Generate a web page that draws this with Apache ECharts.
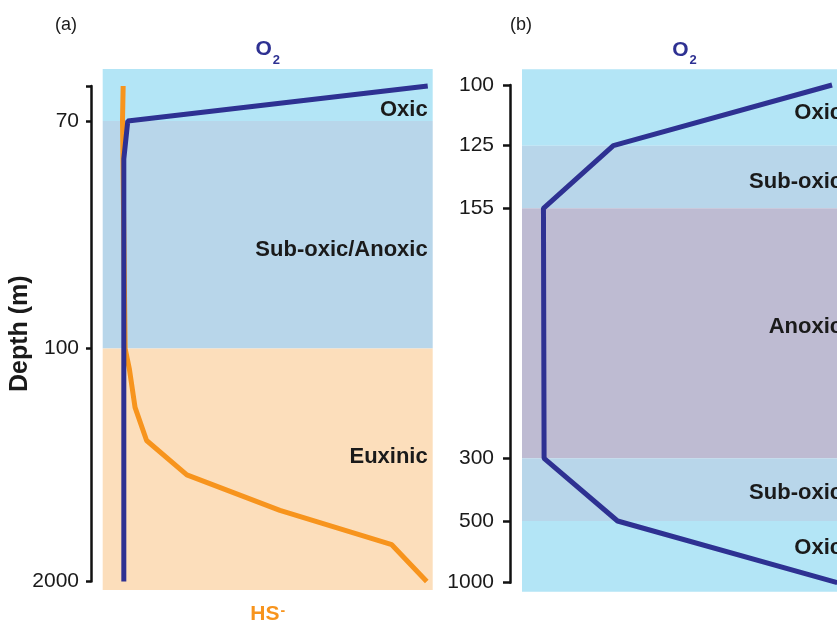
<!DOCTYPE html>
<html><head><meta charset="utf-8">
<script src="https://cdn.jsdelivr.net/npm/echarts@6/dist/echarts.min.js"></script>
<style>html,body{margin:0;padding:0;background:#fff}#c{width:837px;height:625px}</style>
</head><body><div id="c"></div>
<script>
// ================= DATA =================
// ---- Panel (a) ----
const tickDepthA = [0, 70, 100, 2000];
const tickLabelA = ['', '70', '100', '2000'];
const o2DepthA = [0, 70, 75, 2000];
const o2ValA   = [98.5, 7.6, 6.4, 6.4];
const hsDepthA = [0, 70, 100, 270, 580, 850, 1130, 1420, 1700, 2000];
const hsValA   = [6.2, 6.0, 6.8, 8.1, 9.8, 13.3, 25.5, 53.7, 87.6, 98.2];
const zoneNameA   = ['Oxic', 'Sub-oxic/Anoxic', 'Euxinic'];
const zoneTopA    = [null, 70, 100];   // null = open edge of the panel
const zoneBottomA = [70, 100, null];

// ---- Panel (b) ----
const tickDepthB = [100, 125, 155, 300, 500, 1000];
const tickLabelB = ['100', '125', '155', '300', '500', '1000'];
const o2DepthB = [100, 125, 155, 300, 500, 1000];
const o2ValB   = [95.4, 28.1, 6.6, 6.8, 29.4, 97];
const zoneNameB   = ['Oxic', 'Sub-oxic', 'Anoxic', 'Sub-oxic', 'Oxic'];
const zoneTopB    = [null, 125, 155, 300, 500];
const zoneBottomB = [125, 155, 300, 500, null];

// ================= LAYOUT / STYLE =================
const FONT = "'Liberation Sans', Arial, Helvetica, sans-serif";
const INK = '#1a1a1a';
const NAVY = '#2E3192';
const ORANGE = '#F7941D';
const zoneColor = {
  'Oxic': '#B3E5F6',
  'Sub-oxic': '#B8D6EA',
  'Sub-oxic/Anoxic': '#B8D6EA',
  'Anoxic': '#BEBBD2',
  'Euxinic': '#FCDEBB'
};
// non-linear depth axes: relative axis position of each tick
const tickPosA = [0, 35, 262.5, 495.5];
const tickPosB = [0, 60.7, 123.3, 373.3, 436, 497.7];
const padA = [-17, 504];
const padB = [-15.7, 506.7];
const labelDyA = [15, 15, -12];
const labelDyB = [5.5, 5, -6, 3, -8];

function mapDepth(d, depths, pos) {
  for (let i = 0; i < depths.length - 1; i++) {
    if (d <= depths[i + 1] || i === depths.length - 2) {
      const t = (d - depths[i]) / (depths[i + 1] - depths[i]);
      return pos[i] + t * (pos[i + 1] - pos[i]);
    }
  }
}
function series(vals, depths, tD, tP) {
  return vals.map((v, i) => [v, mapDepth(depths[i], tD, tP)]);
}
function zones(names, tops, bottoms, tD, tP, pad, dys) {
  return names.map((n, i) => [
    { name: n,
      yAxis: tops[i] == null ? pad[0] : mapDepth(tops[i], tD, tP),
      itemStyle: { color: zoneColor[n] },
      label: { offset: [0, dys[i]] } },
    { yAxis: bottoms[i] == null ? pad[1] : mapDepth(bottoms[i], tD, tP) }
  ]);
}
function labelFor(tP, labels) {
  return v => { for (let i = 0; i < tP.length; i++) if (Math.abs(tP[i] - v) < 0.01) return labels[i]; return ''; };
}
const o2Name = { formatter: '{o|O}{s|2}', rich: {
  o: { fontSize: 21, fontWeight: 'bold', color: NAVY, fontFamily: FONT, lineHeight: 21, verticalAlign: 'top' },
  s: { fontSize: 13, fontWeight: 'bold', color: NAVY, fontFamily: FONT, lineHeight: 13, padding: [15, 0, 0, 1], verticalAlign: 'top' } } };
const hsName = { formatter: '{h|HS}{m|-}', rich: {
  h: { fontSize: 21, fontWeight: 'bold', color: ORANGE, fontFamily: FONT, lineHeight: 21, verticalAlign: 'top' },
  m: { fontSize: 14, fontWeight: 'bold', color: ORANGE, fontFamily: FONT, lineHeight: 10, padding: [0, 0, 0, 1], verticalAlign: 'top' } } };

const zoneLabel = { show: true, position: 'insideRight', distance: 5, fontSize: 22, fontWeight: 'bold', color: INK, fontFamily: FONT };

function depthAxis(grid, tP, labels, tickLen, margin, name) {
  return {
    type: 'value', gridIndex: grid, inverse: true, min: tP[0], max: tP[tP.length - 1],
    splitLine: { show: false },
    axisLine: { show: true, lineStyle: { color: '#111', width: 2.5 } },
    axisTick: { show: true, customValues: tP, length: tickLen, lineStyle: { color: '#111', width: 2.5 } },
    axisLabel: { show: true, customValues: tP.filter((p, i) => labels[i] !== ''), formatter: labelFor(tP, labels),
      margin: margin, fontSize: 21, color: INK, fontFamily: FONT },
    name: name || '', nameLocation: 'middle', nameRotate: 90, nameGap: 58, nameMoveOverlap: false,
    nameTextStyle: { fontSize: 25, fontWeight: 'bold', color: INK, fontFamily: FONT }
  };
}
function hiddenX(grid) { return { type: 'value', gridIndex: grid, show: false, min: 0, max: 1 }; }
function nameX(grid, pos, nameCfg, gap) {
  return { type: 'value', gridIndex: grid, position: pos, min: 0, max: 100,
    axisLine: { show: false }, axisTick: { show: false }, axisLabel: { show: false }, splitLine: { show: false },
    name: nameCfg.formatter, nameLocation: 'middle', nameGap: gap,
    nameTextStyle: { rich: nameCfg.rich } };
}

const option = {
  animation: false,
  backgroundColor: '#fff',
  title: [
    { text: '(a)', left: 50, top: 11, textStyle: { fontSize: 18, fontWeight: 'normal', color: INK, fontFamily: FONT } },
    { text: '(b)', left: 505, top: 11, textStyle: { fontSize: 18, fontWeight: 'normal', color: INK, fontFamily: FONT } }
  ],
  grid: [
    { left: 91, top: 86, width: 8, height: 495.5, outerBoundsMode: 'none', containLabel: false },
    { left: 102.7, top: 69, width: 330, height: 521, outerBoundsMode: 'none', containLabel: false },
    { left: 510, top: 85, width: 8, height: 497.7, outerBoundsMode: 'none', containLabel: false },
    { left: 522, top: 69.3, width: 325, height: 522.4, outerBoundsMode: 'none', containLabel: false }
  ],
  xAxis: [
    hiddenX(0),
    nameX(1, 'top', o2Name, 9),
    nameX(1, 'bottom', hsName, 14),
    hiddenX(2),
    nameX(3, 'top', o2Name, 9)
  ],
  yAxis: [
    depthAxis(0, tickPosA, tickLabelA, 5, 12, 'Depth (m)'),
    { type: 'value', gridIndex: 1, show: false, inverse: true, min: padA[0], max: padA[1] },
    depthAxis(2, tickPosB, tickLabelB, 7, 16),
    { type: 'value', gridIndex: 3, show: false, inverse: true, min: padB[0], max: padB[1] }
  ],
  series: [
    { type: 'line', xAxisIndex: 1, yAxisIndex: 1, data: [], silent: true,
      markArea: { silent: true, label: zoneLabel, data: zones(zoneNameA, zoneTopA, zoneBottomA, tickDepthA, tickPosA, padA, labelDyA) } },
    { type: 'line', name: 'HS-', xAxisIndex: 2, yAxisIndex: 1, symbol: 'none', z: 3,
      lineStyle: { color: ORANGE, width: 5 }, itemStyle: { color: ORANGE },
      data: series(hsValA, hsDepthA, tickDepthA, tickPosA) },
    { type: 'line', name: 'O2', xAxisIndex: 1, yAxisIndex: 1, symbol: 'none', z: 4,
      lineStyle: { color: NAVY, width: 5 }, itemStyle: { color: NAVY },
      data: series(o2ValA, o2DepthA, tickDepthA, tickPosA) },
    { type: 'line', xAxisIndex: 4, yAxisIndex: 3, data: [], silent: true,
      markArea: { silent: true, label: zoneLabel, data: zones(zoneNameB, zoneTopB, zoneBottomB, tickDepthB, tickPosB, padB, labelDyB) } },
    { type: 'line', name: 'O2 (b)', xAxisIndex: 4, yAxisIndex: 3, symbol: 'none', z: 4,
      lineStyle: { color: NAVY, width: 5 }, itemStyle: { color: NAVY },
      data: series(o2ValB, o2DepthB, tickDepthB, tickPosB) }
  ]
};
const chart = echarts.init(document.getElementById('c'), null, { renderer: 'canvas' });
chart.setOption(option);
</script></body></html>
